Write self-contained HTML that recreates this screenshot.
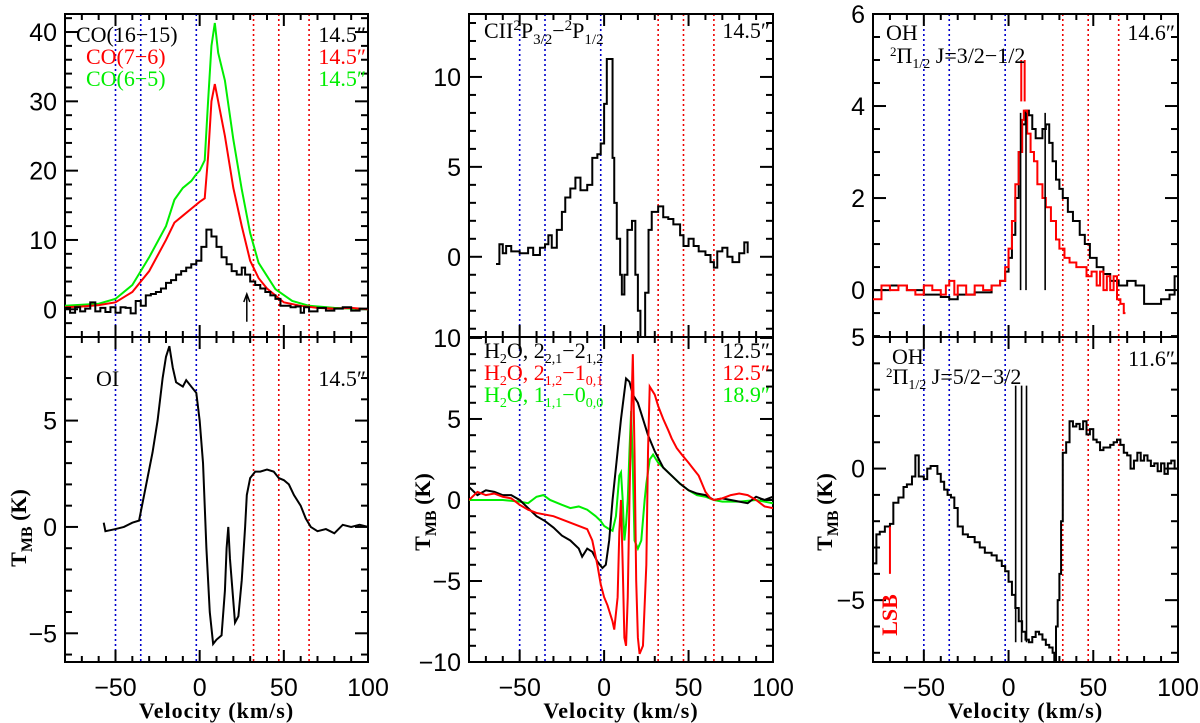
<!DOCTYPE html>
<html><head><meta charset="utf-8"><title>Spectra</title>
<style>
html,body{margin:0;padding:0;background:#fff;}
svg{display:block;font-family:"Liberation Sans",sans-serif;}
.tl{font-size:25px;fill:#000;}
.ann{font-family:"Liberation Serif",serif;font-size:22px;}
</style></head>
<body>
<svg id="chart" width="1200" height="723" viewBox="0 0 1200 723" xmlns="http://www.w3.org/2000/svg"></svg>
<script>
// ---- data arrays (velocity km/s, T_MB K) ----
const co1615V=[-80,-77,-74,-71,-68,-65,-62,-59,-56,-53,-50,-47,-44,-41,-38,-35,-32,-29,-26,-23,-20,-17,-14,-11,-8,-5,-2,1,4,7,10,13,16,19,22,25,27,30,33,36,39,42,45,48,51,54,57,60,62,65,70,75,80,85,90,95,100];
const co1615T=[0.2,-0.5,0.3,-0.3,0.1,1,-0.3,0.2,-0.4,0.3,-0.5,0.3,0.2,-0.6,1.2,0.5,2,2.2,2.5,3,3.8,4.2,5,5.5,6,6.5,7,9,11.5,10.5,9,7.5,6.5,5.5,5,6,5,4,3.5,3,2.5,2,1.5,0.5,0.5,0.3,0.4,-0.5,0.3,-0.3,0.2,-0.2,0.1,0.3,-0.2,0.1,0];
const co76V=[-80,-70,-60,-50,-40,-30,-20,-15,-10,-5,0,3,5,7,9,11,15,20,25,30,35,40,45,50,60,70,80,90,100];
const co76T=[0.3,0.4,0.6,1,2.5,5.5,10,12.5,13.5,14.5,15.5,16,22,30,32.5,30,25,17.5,12,7,4.5,3,2,1,0.5,0.2,0.1,0.2,0];
const co65V=[-80,-60,-50,-40,-30,-20,-15,-10,-5,-2,0,3,5,7,9,11,15,20,25,30,35,45,55,65,80,100];
const co65T=[0.5,0.8,1.5,3.5,7.5,12,15.8,17.5,18.5,19.5,20,21.5,30,38,41.3,37,33,24.5,17.3,11,6.7,2.9,1.2,0.5,0.2,0];
const oiV=[-57,-56,-50,-45,-40,-36,-33,-28,-25,-22,-20,-18,-16,-14,-10,-8,-5,-2,0,2,4,6,8,10,13,15,16,17,18,20,21,23,25,27,28,30,33,36,40,44,47,50,53,56,60,63,66,70,75,80,85,90,95,100];
const oiT=[0.2,-0.2,-0.1,0,0.2,0.3,1.5,3.5,5,7,8,8.5,7.5,6.8,6.6,6.9,6.6,6.3,5,3,-1,-4,-5.5,-5.3,-5.1,-3,-1,0,-1.5,-3.5,-4.5,-4.2,-2.5,0,1.5,2.3,2.6,2.6,2.7,2.6,2.3,2.2,2,1.5,1,0.4,0,-0.2,-0.1,-0.3,0.1,0,0.1,0];
const ciiV=[-64,-62,-60,-58,-55,-50,-45,-42,-38,-35,-33,-31,-28,-25,-23,-20,-17,-14,-10,-7,-4,-2,0,1.6,3.5,5,6,7.5,9.5,10.5,12,13.8,16.5,18.5,20,21.5,24.3,26.3,28.2,32,35,38,41,45,47,50,53,56,60,63,65,67,70,73,76,80,83,85];
const ciiT=[-0.4,0.7,0.2,0.6,0.3,0.2,0.5,0.1,0.5,0.7,1.2,0.5,1.5,2.5,3.3,3.8,4.4,3.7,4,5.5,5.7,6.3,8.5,11,11,5.5,3,1,-1,-2.1,-1,1.5,2,-1,-3,-4.6,-2,1.5,2.5,2.8,2.2,2.1,1.8,1.2,0.6,1,0.6,0.3,0.1,-0.3,-0.6,0.3,0.5,0,-0.3,0.2,0.8,0.2];
const h2oBlkV=[-80,-75,-70,-65,-60,-55,-50,-45,-40,-35,-30,-25,-20,-15,-13,-10,-7,-4,-1,1,3,5,8,10,13,15,17,20,23,26,30,35,40,45,50,55,60,65,70,75,80,85,90,95,100];
const h2oBlkT=[0.8,0.3,0.6,0.5,0.3,0.3,0,-0.5,-1,-1.3,-1.7,-2.2,-2.5,-3,-3.5,-3,-3.2,-3.8,-4.2,-4,-2.5,0,3,5,7.5,7.3,6.5,6,5,4,3,2,1.5,1,0.6,0.4,0.3,0,0.1,0,-0.1,-0.2,0.2,0,0.2];
const h2oRedV=[-80,-75,-70,-65,-60,-55,-50,-45,-40,-35,-30,-25,-20,-15,-10,-7,-4,-2,0,2,5,6,8,9,10,11,12,13,14,15,16,17,18,19,20,21,23,25,26,27,30,32,35,38,40,43,46,50,53,56,58,60,63,65,70,75,80,85,90,95,100];
const h2oRedT=[0,0.5,0.3,0.4,0.2,0.1,-0.3,-0.6,-0.8,-0.9,-1,-1.2,-1.4,-1.6,-1.8,-2.5,-4,-5.2,-6,-6.5,-7.5,-8,-6,-2,0,-4,-8.5,-9,-6,0,5,9,3,-5,-8.5,-9.5,-9,-4,3,7,6.5,5.8,5,4.3,3.8,3.2,2.8,2.3,1.9,1.5,1,0.5,0.1,0,0.1,0.3,0.4,0.3,0,-0.4,-0.5];
const h2oGrnV=[-80,-70,-60,-50,-45,-40,-36,-32,-25,-20,-15,-10,-5,-2,0,3,5,7,9,10,11,12,13,14,15,16,17,18,20,22,24,25,27,29,32,35,40,45,50,55,60,65,70,80,90,100];
const h2oGrnT=[0,0,0,-0.1,-0.2,0.2,0.3,0,-0.3,-0.5,-0.4,-0.6,-1,-1.3,-1.6,-1.8,-1.9,-1,1.5,1.7,0,-2.5,-1.5,0,3,5.5,2,-2.5,-3,-2.5,0,1,2.5,2.8,2.3,2,1.5,1,0.6,0.3,0.2,0,-0.1,-0.1,0,-0.2];
const oh1BlkV=[-80,-70,-60,-50,-40,-35,-30,-20,-10,-5,-2,0,2,4,6,8,10,12,14,16,18,20,22,24,26,28,30,32,35,38,42,45,48,52,56,60,65,70,75,80,85,90,95,98,100];
const oh1BlkT=[0,0.1,0,-0.1,-0.15,-0.2,-0.1,-0.05,0.1,0.2,0.4,0.7,1.2,2,3,3.6,3.9,3.8,3.5,3.3,3.3,3.5,3.6,3.2,2.8,2.4,2.2,2,1.7,1.5,1.2,1,0.7,0.5,0.35,0.2,0.1,0.2,0.1,-0.3,-0.3,-0.2,-0.1,0.3,0.2];
const oh1RedV=[-80,-75,-70,-65,-60,-55,-50,-45,-40,-37,-35,-32,-30,-25,-20,-15,-10,-5,-2,0,2,4,6,8,9,11,13,15,17,20,22,25,28,30,33,36,40,43,46,49,52,54,56,58,60,62,64,66,68,69];
const oh1RedT=[-0.2,0.1,0,0.1,0,-0.1,0.1,0,-0.1,0.1,0.2,-0.1,0.1,-0.1,0.1,0,0.1,0.2,0.5,0.9,1.5,2.3,3,3.7,3.9,3.4,3,2.8,2.3,2,1.8,1.5,1.1,0.9,0.7,0.6,0.5,0.5,0.3,0.4,0.1,0.4,0,0.3,0,0.3,-0.2,-0.3,-0.5,-0.5];
const oh2V=[-80,-78,-76,-73,-70,-68,-65,-62,-60,-57,-55,-53,-50,-48,-46,-44,-42,-40,-38,-36,-34,-32,-30,-27,-24,-20,-17,-14,-10,-7,-4,-2,0,2,4,6,8,10,12,14,16,18,20,22,24,26,27,28,29,30,31,32,34,36,38,40,42,44,46,48,50,52,54,56,58,60,62,64,66,68,70,72,74,76,78,80,82,84,86,88,90,92,94,96,98,100];
const oh2T=[-3.6,-2.5,-2.4,-2.2,-2.1,-1.3,-1.1,-0.7,-0.6,-0.3,0.5,-0.3,-0.4,0,0.1,0.1,-0.2,-0.5,-0.8,-1,-1.1,-1.5,-2.2,-2.5,-2.6,-2.8,-3,-3.2,-3.3,-3.5,-3.7,-3.9,-4.3,-4.8,-5.3,-5.8,-6.2,-6.5,-6.6,-6.4,-6.2,-6.3,-6.5,-6.7,-6.8,-7,-7.3,-6,-5,-4,-2,0.6,1,1.8,1.6,1.7,1.5,1.8,1.3,1.5,1.1,1,0.7,0.8,0.8,0.9,1,1.1,0.9,0.6,0.5,0,0.3,0.6,0.3,0.5,0.3,0.1,0.2,-0.1,0.2,-0.2,0.2,0.3,0,0.1];
const blueLines=[-50,-35,-2];
const redLines=[32,47,65];
const xTicks=[-50,0,50,100];

const NS='http://www.w3.org/2000/svg';
const svg=document.getElementById('chart');
function mk(tag,attrs,parent){const e=document.createElementNS(NS,tag);for(const k in attrs)e.setAttribute(k,attrs[k]);(parent||svg).appendChild(e);return e;}

const cols=[{L:65,R:368},{L:469,R:773},{L:873,R:1178}];
const TOP=14,MID=337,BOT=662;
function mkX(c){return v=>c.L+(v+80)/180*(c.R-c.L);}
function mkY(y0,y1,v0,v1){return v=>y0+(v0-v)/(v0-v1)*(y1-y0);}

function panel(c,y0,y1,v0,v1,maj,min,labels,name,showX){
  const g=mk('g',{});
  
  
  const X=mkX(c),Y=mkY(y0,y1,v0,v1);
  mk('rect',{x:c.L,y:y0,width:c.R-c.L,height:y1-y0,fill:'none',stroke:'#000','stroke-width':2},g);
  for(let v=-80;v<=100;v+=10){const major=(v%50===0);const l=major?12:6;const x=X(v);
    mk('line',{x1:x,x2:x,y1:y0,y2:y0+l,stroke:'#000','stroke-width':2},g);
    mk('line',{x1:x,x2:x,y1:y1,y2:y1-l,stroke:'#000','stroke-width':2},g);}
  const lo=Math.ceil(Math.min(v0,v1)/min)*min;
  for(let v=lo;v<=Math.max(v0,v1)+1e-9;v+=min){const r=Math.round(v/maj*1000)/1000;const major=Math.abs(r-Math.round(r))<1e-6;const l=major?13:7;const y=Y(v);
    mk('line',{x1:c.L,x2:c.L+l,y1:y,y2:y,stroke:'#000','stroke-width':2},g);
    mk('line',{x1:c.R,x2:c.R-l,y1:y,y2:y,stroke:'#000','stroke-width':2},g);}
  labels.forEach(v=>{const t=mk('text',{x:c.L-8,y:Y(v)+9,'text-anchor':'end',class:'tl'},g);t.textContent=(v<0?'\u2212'+(-v):''+v);
    
    });
  if(showX){xTicks.forEach(v=>{const t=mk('text',{x:X(v),y:696,'text-anchor':'middle',class:'tl'},g);t.textContent=(v<0?'\u2212'+(-v):''+v);
    
    });
    const xl=mk('text',{x:(c.L+c.R)/2,y:718,'text-anchor':'middle',class:'ann','font-weight':'bold','font-size':26,'letter-spacing':1},g);xl.textContent='Velocity (km/s)';
    
    }
  return {X,Y,y0,y1,g};
}
function clipFor(c,y0,y1,id){const cp=mk('clipPath',{id:id});mk('rect',{x:c.L,y:y0,width:c.R-c.L,height:y1-y0},cp);return 'url(#'+id+')';}
function series(p,V,T,color,step,name,clip){
  let d='';
  V.forEach((v,i)=>{const x=p.X(v),y=p.Y(T[i]);
    if(i===0)d='M'+x+' '+y;else if(step){d+=' H'+x+' V'+y;}else d+=' L'+x+' '+y;});
  const e=mk('path',{d:d,fill:'none',stroke:color,'stroke-width':2,'clip-path':clip},p.g);
  
  
}
function vlines(c){
  const X=mkX(c);
  blueLines.forEach(v=>{const e=mk('line',{x1:X(v),x2:X(v),y1:TOP,y2:BOT,stroke:'#0000cc','stroke-width':1.6,'stroke-dasharray':'2,3'});
    
    });
  redLines.forEach(v=>{const e=mk('line',{x1:X(v),x2:X(v),y1:TOP,y2:BOT,stroke:'#ee0000','stroke-width':1.6,'stroke-dasharray':'2,3'});
    
    });
}
function txt(x,y,s,color,size,anchor,name,html){
  const t=mk('text',{x:x,y:y,fill:color,'font-size':size,'text-anchor':anchor||'start',class:'ann'});
  if(html)t.innerHTML=s;else t.textContent=s;
  
  
  return t;
}
function ylab(x,y,name){
  const t=mk('text',{x:0,y:0,transform:'translate('+x+','+y+') rotate(-90)','text-anchor':'middle',class:'ann','font-size':26,'font-weight':'bold'});
  t.innerHTML='T<tspan font-size="16" dy="6">MB</tspan><tspan dy="-6"> (K)</tspan>';
  
  
}

// Column 1
vlines(cols[0]);
let p=panel(cols[0],TOP,MID,42.6,-4.0,10,2,[0,10,20,30,40],'co-panel',false);
let cl=clipFor(cols[0],TOP,MID,'c1');
series(p,co65V,co65T,'#00ee00',false,'co65-line',cl);
series(p,co76V,co76T,'#ff0000',false,'co76-line',cl);
series(p,co1615V,co1615T,'#000',true,'co1615-line',cl);
mk('line',{x1:p.X(28),x2:p.X(28),y1:p.Y(-1.8),y2:p.Y(2.2),stroke:'#000','stroke-width':1.5});
mk('path',{d:'M'+(p.X(28)-3)+' '+(p.Y(2.2)+8)+' L'+p.X(28)+' '+p.Y(2.2)+' L'+(p.X(28)+3)+' '+(p.Y(2.2)+8),fill:'none',stroke:'#000','stroke-width':1.5});
txt(76,42,'CO(16\u221215)','#000',25,'start','legend-co1615');
txt(366,42,'14.5\u2033','#000',25,'end','beam-co1615');
txt(86,64,'CO(7\u22126)','#ff0000',25,'start','legend-co76');
txt(366,64,'14.5\u2033','#ff0000',25,'end','beam-co76');
txt(86,86,'CO(6\u22125)','#00ee00',25,'start','legend-co65');
txt(366,86,'14.5\u2033','#00ee00',25,'end','beam-co65');
p=panel(cols[0],MID,BOT,8.93,-6.35,5,1,[-5,0,5],'oi-panel',true);
cl=clipFor(cols[0],MID,BOT,'c2');
series(p,oiV,oiT,'#000',false,'oi-line',cl);
txt(96,386,'OI','#000',25,'start','label-oi');
txt(366,386,'14.5\u2033','#000',25,'end','beam-oi');
ylab(26,528,'y-axis-title-oi');

// Column 2
vlines(cols[1]);
p=panel(cols[1],TOP,MID,13.5,-4.46,5,1,[0,5,10],'cii-panel',false);
cl=clipFor(cols[1],TOP,MID,'c3');
series(p,ciiV,ciiT,'#000',true,'cii-line',cl);
txt(484,38,'CII<tspan font-size="15" dy="-8">2</tspan><tspan dy="8">P</tspan><tspan font-size="15" dy="6">3/2</tspan><tspan dy="-6">\u2212</tspan><tspan font-size="15" dy="-8">2</tspan><tspan dy="8">P</tspan><tspan font-size="15" dy="6">1/2</tspan>','#000',23,'start','label-cii',true);
txt(770,38,'14.5\u2033','#000',25,'end','beam-cii');
p=panel(cols[1],MID,BOT,10.06,-10,5,1,[-10,-5,0,5,10],'h2o-panel',true);
cl=clipFor(cols[1],MID,BOT,'c4');
series(p,h2oGrnV,h2oGrnT,'#00ee00',false,'h2o-111-000-line',cl);
series(p,h2oBlkV,h2oBlkT,'#000',false,'h2o-221-212-line',cl);
series(p,h2oRedV,h2oRedT,'#ff0000',false,'h2o-212-101-line',cl);
txt(484,358,'H<tspan font-size="14" dy="5">2</tspan><tspan dy="-5">O, 2</tspan><tspan font-size="14" dy="5">2,1</tspan><tspan dy="-5">\u22122</tspan><tspan font-size="14" dy="5">1,2</tspan>','#000',21,'start','legend-h2o-221',true);
txt(484,380,'H<tspan font-size="14" dy="5">2</tspan><tspan dy="-5">O, 2</tspan><tspan font-size="14" dy="5">1,2</tspan><tspan dy="-5">\u22121</tspan><tspan font-size="14" dy="5">0,1</tspan>','#ff0000',21,'start','legend-h2o-212',true);
txt(484,402,'H<tspan font-size="14" dy="5">2</tspan><tspan dy="-5">O, 1</tspan><tspan font-size="14" dy="5">1,1</tspan><tspan dy="-5">\u22120</tspan><tspan font-size="14" dy="5">0,0</tspan>','#00ee00',21,'start','legend-h2o-111',true);
txt(770,358,'12.5\u2033','#000',25,'end','beam-h2o-221');
txt(770,380,'12.5\u2033','#ff0000',25,'end','beam-h2o-212');
txt(770,402,'18.9\u2033','#00ee00',25,'end','beam-h2o-111');
ylab(430,512,'y-axis-title-h2o');

// Column 3
vlines(cols[2]);
p=panel(cols[2],TOP,MID,6.0,-1.02,2,0.5,[0,2,4,6],'oh-32-panel',false);
cl=clipFor(cols[2],TOP,MID,'c5');
series(p,oh1BlkV,oh1BlkT,'#000',true,'oh-32-black-line',cl);
series(p,oh1RedV,oh1RedT,'#ff0000',true,'oh-32-red-line',cl);
[7.1,10.3,21.6].forEach(v=>{mk('line',{x1:p.X(v),x2:p.X(v),y1:p.Y(0),y2:p.Y(3.85),stroke:'#000','stroke-width':1.6});});
[7.5,9.5].forEach(v=>{mk('line',{x1:p.X(v),x2:p.X(v),y1:p.Y(4.1),y2:p.Y(5.0),stroke:'#ff0000','stroke-width':2});});
txt(886,40,'OH','#000',25,'start','label-oh-32');
txt(1175,40,'14.6\u2033','#000',25,'end','beam-oh-32');
txt(890,63,'<tspan font-size="13" dy="-7">2</tspan><tspan dy="7">\u03A0</tspan><tspan font-size="14" dy="5">1/2</tspan><tspan dy="-5"> J=3/2\u22121/2</tspan>','#000',19,'start','transition-oh-32',true);
p=panel(cols[2],MID,BOT,5.0,-7.35,5,1,[-5,0,5],'oh-52-panel',true);
cl=clipFor(cols[2],MID,BOT,'c6');
series(p,oh2V,oh2T,'#000',true,'oh-52-line',cl);
[4.2,7.7,10.6].forEach(v=>{mk('line',{x1:p.X(v),x2:p.X(v),y1:p.Y(3.15),y2:p.Y(-6.6),stroke:'#000','stroke-width':1.6});});
mk('line',{x1:p.X(-70),x2:p.X(-70),y1:p.Y(-2.2),y2:p.Y(-4),stroke:'#ff0000','stroke-width':2});
const lsb=mk('text',{x:0,y:0,transform:'translate(897,615) rotate(-90)','text-anchor':'middle',fill:'#ff0000','font-size':20,class:'ann','font-weight':'bold'});
lsb.textContent='LSB';


txt(892,364,'OH','#000',25,'start','label-oh-52');
txt(1175,366,'11.6\u2033','#000',25,'end','beam-oh-52');
txt(886,384,'<tspan font-size="13" dy="-7">2</tspan><tspan dy="7">\u03A0</tspan><tspan font-size="14" dy="5">1/2</tspan><tspan dy="-5"> J=5/2\u22123/2</tspan>','#000',19,'start','transition-oh-52',true);
ylab(832,512,'y-axis-title-oh');
</script>
</body></html>
